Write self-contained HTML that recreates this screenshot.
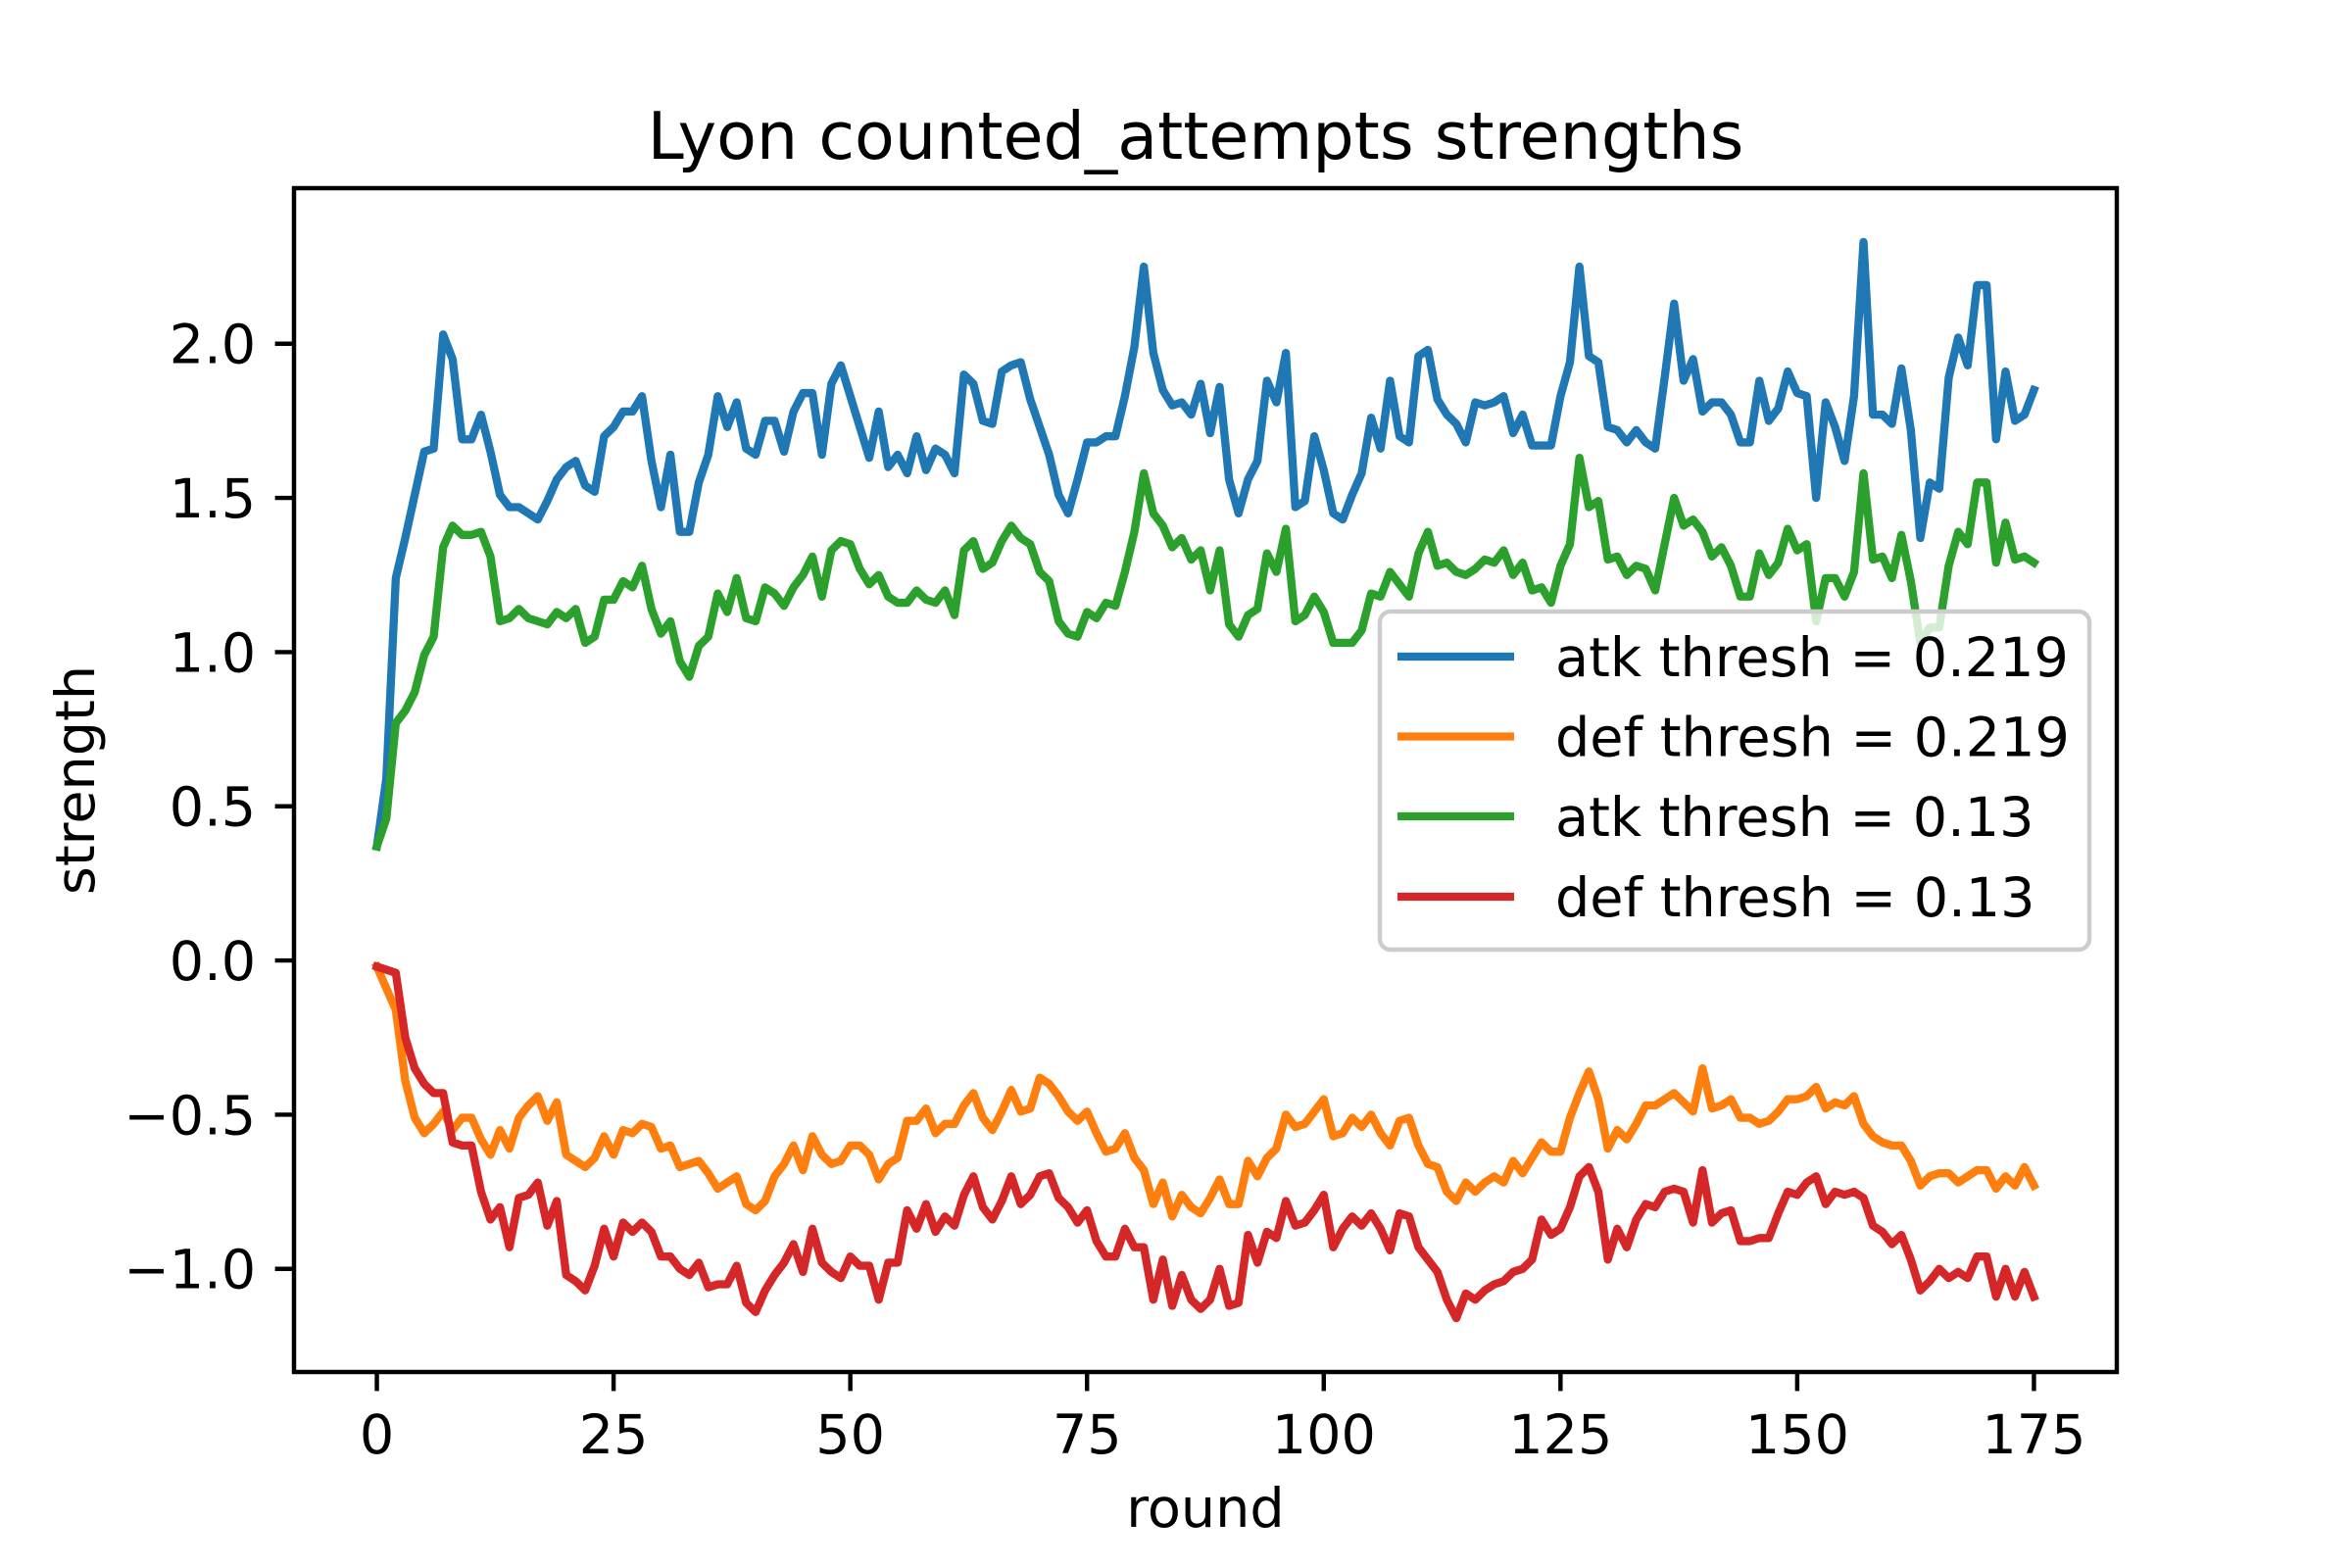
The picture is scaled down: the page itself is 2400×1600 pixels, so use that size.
<!DOCTYPE html>
<html><head><meta charset="utf-8"><style>
html,body{margin:0;padding:0;background:#fff;}
svg{display:block;font-family:"DejaVu Sans","Liberation Sans",sans-serif;}
</style></head><body>
<svg id="chart" width="2400" height="1600" viewBox="0 0 2400 1600">
<rect x="0" y="0" width="2400" height="1600" fill="#fff"/>
<text x="1220" y="162" font-size="66.7" text-anchor="middle">Lyon counted_attempts strengths</text>
<g id="plot"></g>
<g id="xticks"></g>
<g id="yticks"></g>
<rect x="300" y="192" width="1860" height="1208" fill="none" stroke="#000" stroke-width="4.44"/>
<text x="1230" y="1558" font-size="55.6" text-anchor="middle">round</text>
<text x="0" y="0" font-size="55.6" text-anchor="middle" transform="translate(96,796) rotate(-90)">strength</text>
<g id="legend"></g>
</svg>
<script>
const rounds = Array.from({length:176},(_,i)=>i);
const atk219 = [0.37,0.59,1.24,1.37,1.51,1.65,1.66,2.03,1.95,1.69,
1.69,1.77,1.65,1.51,1.47,1.47,1.45,1.43,1.49,1.56,
1.60,1.62,1.54,1.52,1.70,1.73,1.78,1.78,1.83,1.62,
1.47,1.64,1.39,1.39,1.55,1.64,1.83,1.73,1.81,1.66,
1.64,1.75,1.75,1.65,1.78,1.84,1.84,1.64,1.87,1.93,
1.83,1.73,1.63,1.78,1.60,1.64,1.58,1.70,1.59,1.66,
1.64,1.58,1.90,1.87,1.75,1.74,1.91,1.93,1.94,1.82,
1.73,1.64,1.51,1.45,1.56,1.68,1.68,1.70,1.70,1.83,
1.99,2.25,1.97,1.85,1.80,1.81,1.77,1.87,1.71,1.86,
1.56,1.45,1.56,1.62,1.88,1.81,1.97,1.47,1.49,1.70,
1.59,1.45,1.43,1.51,1.58,1.76,1.66,1.88,1.70,1.68,
1.96,1.98,1.82,1.77,1.74,1.68,1.81,1.80,1.81,1.83,
1.71,1.77,1.67,1.67,1.67,1.83,1.94,2.25,1.96,1.94,
1.73,1.72,1.68,1.72,1.68,1.66,1.89,2.13,1.88,1.95,
1.78,1.81,1.81,1.77,1.68,1.68,1.88,1.75,1.79,1.91,
1.84,1.83,1.50,1.81,1.73,1.62,1.83,2.33,1.77,1.77,
1.74,1.92,1.72,1.37,1.55,1.53,1.89,2.02,1.93,2.19,
2.19,1.69,1.91,1.75,1.77,1.85];
const def219 = [-0.02,-0.09,-0.16,-0.39,-0.51,-0.56,-0.53,-0.49,-0.55,-0.51,
-0.51,-0.58,-0.63,-0.55,-0.61,-0.51,-0.47,-0.44,-0.52,-0.46,
-0.63,-0.65,-0.67,-0.64,-0.57,-0.63,-0.55,-0.56,-0.53,-0.54,
-0.61,-0.60,-0.67,-0.66,-0.65,-0.69,-0.74,-0.72,-0.70,-0.79,
-0.81,-0.78,-0.70,-0.66,-0.60,-0.68,-0.57,-0.63,-0.66,-0.65,
-0.60,-0.60,-0.63,-0.71,-0.66,-0.64,-0.52,-0.52,-0.48,-0.56,
-0.53,-0.53,-0.47,-0.43,-0.51,-0.55,-0.49,-0.42,-0.49,-0.48,
-0.38,-0.40,-0.44,-0.49,-0.52,-0.49,-0.56,-0.62,-0.61,-0.56,
-0.64,-0.68,-0.79,-0.72,-0.83,-0.76,-0.80,-0.82,-0.77,-0.71,
-0.79,-0.79,-0.65,-0.70,-0.64,-0.61,-0.50,-0.54,-0.53,-0.49,
-0.45,-0.57,-0.56,-0.51,-0.54,-0.50,-0.56,-0.60,-0.52,-0.51,
-0.60,-0.66,-0.67,-0.75,-0.78,-0.72,-0.75,-0.72,-0.70,-0.72,
-0.65,-0.69,-0.64,-0.59,-0.62,-0.62,-0.51,-0.43,-0.36,-0.45,
-0.61,-0.55,-0.58,-0.53,-0.47,-0.47,-0.45,-0.43,-0.46,-0.49,
-0.35,-0.48,-0.47,-0.45,-0.51,-0.51,-0.53,-0.52,-0.49,-0.45,
-0.45,-0.44,-0.41,-0.48,-0.46,-0.47,-0.44,-0.53,-0.57,-0.59,
-0.60,-0.60,-0.65,-0.73,-0.70,-0.69,-0.69,-0.72,-0.70,-0.68,
-0.68,-0.74,-0.70,-0.73,-0.67,-0.73];
const atk13 = [0.37,0.46,0.77,0.81,0.87,0.99,1.05,1.34,1.41,1.38,
1.38,1.39,1.31,1.10,1.11,1.14,1.11,1.10,1.09,1.13,
1.11,1.14,1.03,1.05,1.17,1.17,1.23,1.21,1.28,1.14,
1.06,1.10,0.97,0.92,1.02,1.05,1.19,1.13,1.24,1.11,
1.10,1.21,1.19,1.15,1.21,1.25,1.31,1.18,1.33,1.36,
1.35,1.27,1.22,1.25,1.18,1.16,1.16,1.20,1.17,1.16,
1.20,1.12,1.33,1.36,1.27,1.29,1.36,1.41,1.37,1.35,
1.26,1.23,1.10,1.06,1.05,1.13,1.11,1.16,1.15,1.26,
1.39,1.58,1.45,1.41,1.34,1.37,1.30,1.33,1.20,1.33,
1.09,1.05,1.12,1.14,1.32,1.26,1.40,1.10,1.12,1.18,
1.13,1.03,1.03,1.03,1.07,1.19,1.18,1.26,1.22,1.18,
1.32,1.39,1.28,1.29,1.26,1.25,1.27,1.30,1.29,1.33,
1.25,1.29,1.20,1.21,1.16,1.28,1.35,1.63,1.47,1.49,
1.30,1.31,1.25,1.28,1.27,1.20,1.35,1.50,1.41,1.43,
1.39,1.31,1.34,1.28,1.18,1.18,1.32,1.25,1.29,1.40,
1.33,1.35,1.10,1.24,1.24,1.18,1.26,1.58,1.30,1.31,
1.24,1.38,1.23,1.03,1.08,1.08,1.28,1.39,1.35,1.55,
1.55,1.29,1.42,1.30,1.31,1.29];
const def13 = [-0.02,-0.03,-0.04,-0.25,-0.35,-0.40,-0.43,-0.43,-0.59,-0.60,
-0.60,-0.75,-0.84,-0.80,-0.93,-0.77,-0.76,-0.72,-0.86,-0.78,
-1.02,-1.04,-1.07,-0.99,-0.87,-0.96,-0.85,-0.88,-0.85,-0.88,
-0.96,-0.96,-1.00,-1.02,-0.98,-1.06,-1.05,-1.05,-0.99,-1.11,
-1.14,-1.07,-1.02,-0.98,-0.92,-1.01,-0.87,-0.98,-1.01,-1.03,
-0.96,-0.99,-0.99,-1.10,-0.98,-0.98,-0.81,-0.87,-0.79,-0.88,
-0.83,-0.86,-0.76,-0.70,-0.80,-0.84,-0.78,-0.70,-0.79,-0.76,
-0.70,-0.69,-0.77,-0.80,-0.85,-0.81,-0.91,-0.96,-0.96,-0.87,
-0.93,-0.93,-1.10,-0.97,-1.12,-1.02,-1.10,-1.13,-1.10,-1.00,
-1.12,-1.11,-0.89,-0.98,-0.88,-0.90,-0.78,-0.86,-0.85,-0.81,
-0.76,-0.93,-0.87,-0.83,-0.86,-0.82,-0.87,-0.94,-0.82,-0.83,
-0.93,-0.97,-1.01,-1.10,-1.16,-1.08,-1.10,-1.07,-1.05,-1.04,
-1.01,-1.00,-0.97,-0.84,-0.89,-0.87,-0.80,-0.70,-0.67,-0.75,
-0.97,-0.87,-0.93,-0.84,-0.79,-0.80,-0.75,-0.74,-0.75,-0.85,
-0.68,-0.85,-0.82,-0.81,-0.91,-0.91,-0.90,-0.90,-0.82,-0.75,
-0.76,-0.72,-0.70,-0.79,-0.75,-0.76,-0.75,-0.77,-0.86,-0.88,
-0.92,-0.89,-0.97,-1.07,-1.04,-1.00,-1.03,-1.01,-1.03,-0.96,
-0.96,-1.09,-1.00,-1.09,-1.01,-1.09];
const seriesLabels = ["atk thresh = 0.219","def thresh = 0.219","atk thresh = 0.13","def thresh = 0.13"];
const xTickValues = [0,25,50,75,100,125,150,175];
const yTickValues = [-1.0,-0.5,0.0,0.5,1.0,1.5,2.0];
const yTickLabels = ["\u22121.0","\u22120.5","0.0","0.5","1.0","1.5","2.0"];

const NS = "http://www.w3.org/2000/svg";
const L=300,R=2160,T=192,B=1400;
const allSeries=[atk219,def219,atk13,def13];
const colors=["#1f77b4","#ff7f0e","#2ca02c","#d62728"];
const names=["line-atk-0219","line-def-0219","line-atk-013","line-def-013"];
let xmin=Math.min(...rounds), xmax=Math.max(...rounds);
let xm=(xmax-xmin)*0.05; xmin-=xm; xmax+=xm;
let flat=allSeries.flat();
let ymin=Math.min(...flat), ymax=Math.max(...flat);
let ym=(ymax-ymin)*0.05; ymin-=ym; ymax+=ym;
function sx(v){return L+(v-xmin)/(xmax-xmin)*(R-L);}
function sy(v){return B-(v-ymin)/(ymax-ymin)*(B-T);}
function mk(tag,attrs,parent){const e=document.createElementNS(NS,tag);for(const k in attrs)e.setAttribute(k,attrs[k]);parent.appendChild(e);return e;}

const plot=document.getElementById('plot');
allSeries.forEach((s,i)=>{
  const d=s.map((v,j)=>(j?'L':'M')+sx(rounds[j]).toFixed(2)+' '+sy(v).toFixed(2)).join(' ');
  const p=mk('path',{d:d,fill:'none',stroke:colors[i],'stroke-width':8.33,'stroke-linejoin':'round','stroke-linecap':'square'},plot);
  
  
});

const xg=document.getElementById('xticks');
xTickValues.forEach(v=>{
  const x=sx(v);
  const t=mk('line',{x1:x,x2:x,y1:B,y2:B+19.4,stroke:'#000','stroke-width':4.44},xg);
  
  
  const tx=mk('text',{x:x,y:B+83,'font-size':55.6,'text-anchor':'middle'},xg);
  tx.textContent=String(v);
  
  
});
const yg=document.getElementById('yticks');
yTickValues.forEach((v,i)=>{
  const y=sy(v);
  const t=mk('line',{x1:L-19.4,x2:L,y1:y,y2:y,stroke:'#000','stroke-width':4.44},yg);
  
  
  const tx=mk('text',{x:L-38.8,y:y+20,'font-size':55.6,'text-anchor':'end'},yg);
  tx.textContent=yTickLabels[i];
  
  
});

const lg=document.getElementById('legend');
const box=mk('rect',{x:1408,y:624,width:724,height:345,rx:11,ry:11,fill:'#fff','fill-opacity':0.8,stroke:'#cccccc','stroke-width':4.44},lg);


const ly=[670,751.5,833,915];
seriesLabels.forEach((lab,i)=>{
  const ln=mk('line',{x1:1426,x2:1545,y1:ly[i],y2:ly[i],stroke:colors[i],'stroke-width':8.33},lg);
  
  
  const tx=mk('text',{x:1587,y:ly[i]+20,'font-size':55.6},lg);
  tx.textContent=lab;
  
  
});
</script>
</body></html>
